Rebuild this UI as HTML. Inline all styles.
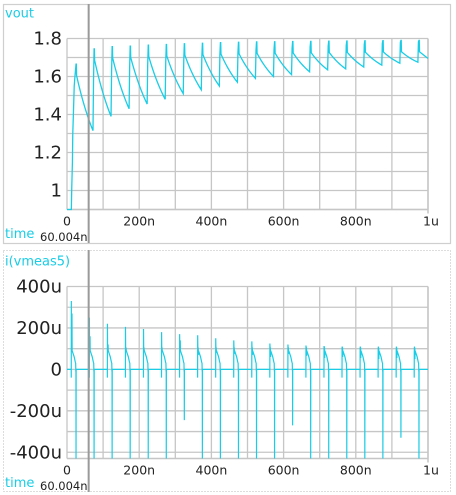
<!DOCTYPE html>
<html><head><meta charset="utf-8"><style>
html,body{margin:0;padding:0;background:#fff;width:456px;height:495px;overflow:hidden}
svg{display:block}
text{font-family:"DejaVu Sans","Liberation Sans",sans-serif}
</style></head><body>
<svg id="c" width="456" height="495" xmlns="http://www.w3.org/2000/svg"></svg>
<script>
// ---- data ----
const pulseTimes=[25,75,125,175,225,275,325,375,425,475,525,575,625,675,725,775,825,875,925,975];
const voutPeaks=[1.665,1.745,1.757,1.76,1.765,1.768,1.772,1.775,1.778,1.78,1.782,1.783,1.784,1.785,1.786,1.787,1.788,1.789,1.79,1.79];
const voutTroughs=[1.315,1.39,1.43,1.455,1.48,1.51,1.53,1.55,1.57,1.59,1.60,1.61,1.625,1.635,1.64,1.65,1.66,1.67,1.675,1.68];
const iPosPeaks=[330,250,220,205,195,180,170,165,150,140,135,125,120,115,110,105,100,95,90,85];
const iMidPeaks=[270,160,120,100,95,85,140,70,80,75,70,60,75,65,55,60,55,50,55,50];
const iNegPeaks=[-430,-430,-430,-430,-430,-430,-245,-430,-430,-430,-430,-430,-270,-430,-430,-430,-430,-430,-330,-430];
const xTicks=[0,200,400,600,800,1000];
const xTickLabels=["0","200n","400n","600n","800n","1u"];
const vTicks=[1,1.2,1.4,1.6,1.8];
const vTickLabels=["1","1.2","1.4","1.6","1.8"];
const iTicks=[-400,-200,0,200,400];
const iTickLabels=["-400u","-200u","0","200u","400u"];
const cursorTime=60.004;

const NS="http://www.w3.org/2000/svg";
const svg=document.getElementById('c');
function mk(tag,attrs,parent){const e=document.createElementNS(NS,tag);for(const k in attrs)e.setAttribute(k,attrs[k]);(parent||svg).appendChild(e);return e;}
const L=67,R=428;
const xs=t=>L+(t/1000)*(R-L);
const CY="#19cde6",GRID="#c6c6c6",TXT="#222";

const p1=mk('rect',{x:3.5,y:4.5,width:447,height:239,fill:'none',stroke:'#cfcfcf','stroke-width':1.2});


const p2=mk('rect',{x:3.5,y:250.5,width:447,height:241,fill:'none',stroke:'#bbb','stroke-width':1,'stroke-dasharray':'1,2'});



function panel(name,T,B,ymin,ymax,gridStep,ticks,labels,labY,labName,tTxtY){
  const ys=v=>B-(v-ymin)/(ymax-ymin)*(B-T);
  const g=mk('g',{});
  
  
  for(let t=0;t<=1000;t+=100){mk('line',{x1:xs(t),x2:xs(t),y1:T,y2:B,stroke:GRID,'stroke-width':1.3},g);}
  const start=Math.ceil(ymin/gridStep-1e-6);
  for(let k=start;k*gridStep<=ymax+1e-9;k++){const y=ys(k*gridStep);mk('line',{x1:L,x2:R,y1:y,y2:y,stroke:GRID,'stroke-width':1.3},g);}
  mk('line',{x1:L,x2:R,y1:B,y2:B,stroke:GRID,'stroke-width':1.5},g);
  mk('line',{x1:R,x2:R,y1:T,y2:B+4,stroke:GRID,'stroke-width':1.5},g);
  ticks.forEach((v,i)=>{const t=mk('text',{x:62,y:ys(v)+6,'text-anchor':'end','font-size':labY,fill:TXT});t.textContent=labels[i];
    
    });
  xTicks.forEach((v,i)=>{const t=mk('text',{x:xs(v)+(i==5?3:0),y:B+16,'text-anchor':'middle','font-size':12.5,fill:TXT});t.textContent=xTickLabels[i];
    
    });
  const n=mk('text',{x:5,y:T-21,'font-size':13,fill:CY});n.textContent=labName;
  
  
  const tm=mk('text',{x:5,y:tTxtY,'font-size':13,fill:CY});tm.textContent='time';
  
  
  const cv=mk('text',{x:40,y:tTxtY+3,'font-size':11.5,fill:TXT});cv.textContent=cursorTime.toFixed(3)+'n';
  
  
  return ys;
}

const yV=panel('vout',38.5,209.5,0.9,1.8,0.1,vTicks,vTickLabels,18,'vout',238);
let pts=[[0,0.9],[12,0.9],[13,1.0],[15,1.15],[16,1.3],[18,1.42],[20,1.55],[22,1.6]];
pulseTimes.forEach((t,k)=>{
  const P=voutPeaks[k],Tr=voutTroughs[k];
  if(k>0){pts.push([t-3,voutTroughs[k-1]]);pts.push([t-1.5,(voutTroughs[k-1]+P)/2+0.05]);}
  pts.push([t,P]);pts.push([t+0.8,P]);pts.push([t+1.5,P-0.06]);
  const end=(k<pulseTimes.length-1)?pulseTimes[k+1]-3:1000;
  const a=P-0.06;
  const n=12;
  for(let j=1;j<=n;j++){const f=j/n;const tt=t+1.5+(end-t-1.5)*f;
    const val=a+(Tr-a)*(1-Math.exp(-0.6*f))/(1-Math.exp(-0.6));
    pts.push([tt, (k<pulseTimes.length-1)?val:a+(1.695-a)*f]);}
});
const vp=mk('path',{d:'M'+pts.map(p=>xs(p[0]).toFixed(2)+','+yV(p[1]).toFixed(2)).join('L'),fill:'none',stroke:CY,'stroke-width':1.3});



const yI=panel('current',286.5,458.5,-430,400,100,iTicks,iTickLabels,18,'i(vmeas5)',487);
let ip=[[0,0]];
pulseTimes.forEach((t,k)=>{
  const t0=t-13;
  ip.push([t0-0.3,0],[t0-0.2,-40],[t0,iPosPeaks[k]],[t0+0.4,110],[t0+1.5,100],[t0+1.8,iMidPeaks[k]],[t0+2.2,90],
    [t0+8,60],[t0+11,35],[t0+12,30],[t0+12.5,-10],[t0+12.8,0],[t0+13,iNegPeaks[k]],[t0+13.3,0]);
});
ip.push([1000,0]);
const cp=mk('path',{d:'M'+ip.map(p=>xs(p[0]).toFixed(2)+','+yI(p[1]).toFixed(2)).join('L'),fill:'none',stroke:CY,'stroke-width':1.2});



[[4,243],[250,492]].forEach(r=>{
  const c=mk('line',{x1:xs(cursorTime),x2:xs(cursorTime),y1:r[0],y2:r[1],stroke:'#9a9a9a','stroke-width':2});
  
  
});
</script>
</body></html>
